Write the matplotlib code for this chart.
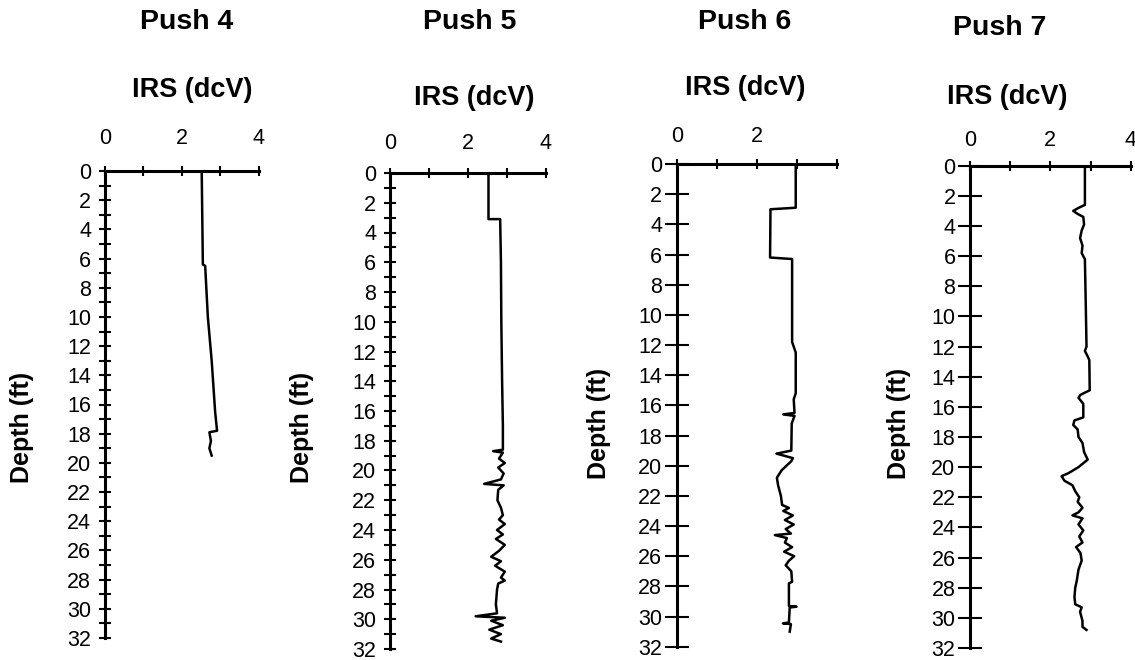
import numpy as np
import matplotlib
matplotlib.use('Agg')
import matplotlib.pyplot as plt
from matplotlib.ticker import MultipleLocator, FixedLocator

plt.rcParams['font.family'] = ['Liberation Sans', 'DejaVu Sans']

# Push 4 profile (depth ft, IRS dcV)
p4_depth = [0, 6.4, 6.5, 10, 13, 16.5, 17.8, 17.9, 18.5, 19.0, 19.5]
p4_irs = [2.52, 2.55, 2.61, 2.68, 2.78, 2.87, 2.92, 2.72, 2.76, 2.72, 2.78]

# Push 5
p5_depth = [0, 3.1, 3.1, 6, 10, 14, 17, 18.6, 18.7, 18.8, 19.2, 19.5, 19.8, 20.2,
            20.6, 20.9, 21.0, 21.3, 22.0, 22.5, 23.0, 23.3, 23.6, 24.0, 24.3, 24.6,
            25.0, 25.4, 25.8, 26.1, 26.4, 26.8, 27.2, 27.4, 27.6, 28.0, 29.0, 29.6,
            29.8, 29.9, 30.1, 30.4, 30.7, 31.0, 31.3, 31.5]
p5_irs = [2.53, 2.53, 2.83, 2.85, 2.86, 2.88, 2.9, 2.9, 2.65, 2.9, 2.8, 2.95, 2.78, 2.92,
          2.85, 2.42, 2.92, 2.78, 2.76, 2.85, 2.9, 2.8, 2.95, 2.75, 2.9, 2.72,
          2.95, 2.8, 2.6, 2.85, 2.7, 2.95, 2.85, 2.95, 2.78, 2.75, 2.72, 2.75,
          2.2, 2.95, 2.6, 2.9, 2.55, 2.85, 2.6, 2.85]

# Push 6
p6_depth = [0, 2.9, 3.0, 6.2, 6.3, 11.8, 12.5, 15.2, 15.6, 16.5, 16.6, 16.7, 17.2,
            19.0, 19.2, 19.5, 19.7, 20.3, 20.8, 21.3, 22.0, 22.6, 22.8, 23.0, 23.3,
            23.6, 23.9, 24.2, 24.5, 24.6, 24.8, 25.1, 25.4, 25.7, 26.0, 26.3, 26.6,
            27.0, 27.7, 27.8, 29.3, 29.35, 29.4, 30.4, 30.45, 30.5, 31.0]
p6_irs = [2.97, 2.97, 2.34, 2.33, 2.88, 2.88, 2.97, 2.97, 2.92, 2.94, 2.66, 2.94, 2.87,
          2.86, 2.49, 2.9, 2.86, 2.62, 2.5, 2.53, 2.6, 2.63, 2.8, 2.66, 2.9,
          2.7, 2.92, 2.72, 2.85, 2.45, 2.75, 2.7, 2.88, 2.68, 2.93, 2.8, 2.72,
          2.86, 2.88, 2.8, 2.8, 2.99, 2.82, 2.8, 2.65, 2.85, 2.82]

# Push 7
p7_depth = [0, 2.6, 2.8, 3.0, 3.2, 3.4, 3.9, 4.3, 4.8, 5.3, 5.8, 6.2, 9.0, 12.0,
            12.3, 12.6, 12.9, 14.9, 15.2, 15.4, 15.8, 16.7, 16.9, 17.2, 17.5, 18.0,
            18.4, 19.0, 19.5, 20.0, 20.4, 20.6, 20.9, 21.2, 21.6, 22.0, 22.3, 22.7,
            23.0, 23.2, 23.4, 23.8, 24.2, 24.6, 25.0, 25.3, 25.7, 26.2, 26.8, 27.5,
            28.0, 28.6, 29.1, 29.3, 29.6, 30.2, 30.6, 30.8]
p7_irs = [2.86, 2.86, 2.7, 2.57, 2.68, 2.82, 2.84, 2.78, 2.74, 2.8, 2.78, 2.86, 2.88, 2.9,
          2.86, 2.92, 2.97, 2.98, 2.75, 2.7, 2.82, 2.82, 2.6, 2.57, 2.68, 2.7,
          2.8, 2.84, 2.93, 2.7, 2.45, 2.28, 2.35, 2.55, 2.62, 2.72, 2.68, 2.8,
          2.7, 2.55, 2.8, 2.7, 2.82, 2.72, 2.8, 2.64, 2.75, 2.78, 2.7, 2.66,
          2.62, 2.6, 2.62, 2.78, 2.74, 2.8, 2.8, 2.9]

titles = ['Push 4', 'Push 5', 'Push 6', 'Push 7']
depths = [p4_depth, p5_depth, p6_depth, p7_depth]
values = [p4_irs, p5_irs, p6_irs, p7_irs]
x_labels = [['0', '', '2', '', '4'], ['0', '', '2', '', '4'],
            ['0', '', '2', '', ''], ['0', '', '2', '', '4']]
minor_y = [True, True, False, False]

# layout in pixels of the 1135x660 canvas
W, H = 1135, 660
boxes = [(105, 171, 258.5, 638), (390, 173, 545.7, 649),
         (676.7, 164, 837, 646.7), (970, 165.7, 1130.7, 648)]
title_pos = [(186.5, 22), (470, 22), (745, 22), (1000, 28)]
irs_pos = [(192, 90), (474, 98), (745, 88), (1007, 97)]
depth_pos = [(22, 427), (302, 427), (599, 423), (899, 423)]
xlab_pad = [12, 10, 9, 7]

fig = plt.figure(figsize=(11.35, 6.6), dpi=100)

for i in range(4):
    l, t, r, b = boxes[i]
    ax = fig.add_axes([l / W, 1 - b / H, (r - l) / W, (b - t) / H])
    ax.plot(values[i], depths[i], color='black', lw=1.8)
    ax.set_xlim(0, 4)
    ax.set_ylim(32, 0)

    ax.spines['right'].set_visible(False)
    ax.spines['bottom'].set_visible(False)
    ax.spines['left'].set_linewidth(2.2)
    ax.spines['top'].set_linewidth(2.2)

    ax.xaxis.tick_top()
    ax.xaxis.set_major_locator(FixedLocator([0, 1, 2, 3, 4]))
    ax.set_xticklabels(x_labels[i])
    ax.tick_params(axis='x', direction='inout', length=7, width=1.5,
                   labelsize=15.5, pad=xlab_pad[i])

    ax.yaxis.set_major_locator(MultipleLocator(2))
    if minor_y[i]:
        ax.yaxis.set_minor_locator(MultipleLocator(1))
        ax.tick_params(axis='y', which='both', direction='inout', length=8,
                       width=1.5, labelsize=15.5, pad=6)
    else:
        ax.tick_params(axis='y', direction='inout', length=17, width=1.5,
                       labelsize=15.5, pad=2)

    fig.text(title_pos[i][0] / W, 1 - title_pos[i][1] / H, titles[i],
             ha='center', va='center', fontsize=20.5, fontweight='bold')
    fig.text(irs_pos[i][0] / W, 1 - irs_pos[i][1] / H, 'IRS (dcV)',
             ha='center', va='center', fontsize=19.5, fontweight='bold')
    fig.text(depth_pos[i][0] / W, 1 - depth_pos[i][1] / H, 'Depth (ft)',
             ha='center', va='center', rotation=90, fontsize=18, fontweight='bold')

fig.savefig('out.png', dpi=100)
